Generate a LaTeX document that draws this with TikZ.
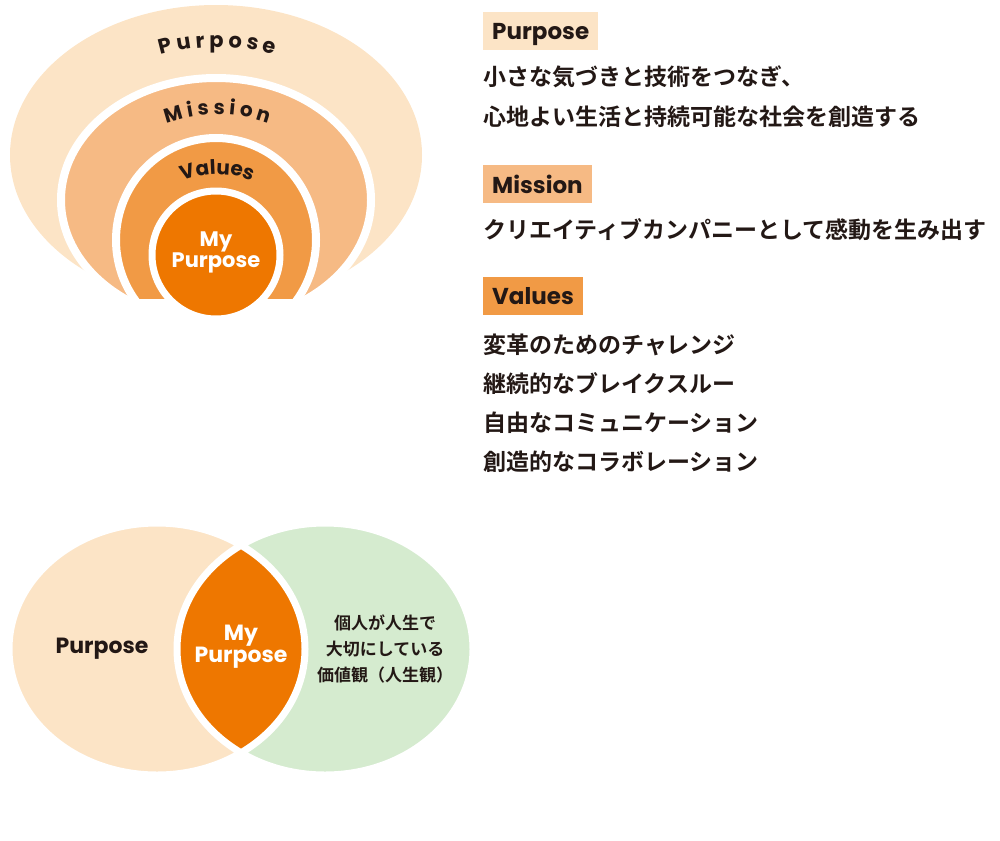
\documentclass[tikz,border=0pt]{standalone}
\usepackage{fontspec}
\setmainfont{Poppins}
\newfontfamily\jpfont{Noto Sans CJK JP}[BoldFont={* Bold}]
\usetikzlibrary{positioning,decorations.text}
\definecolor{cpurpose}{HTML}{FCE4C6}
\definecolor{cmission}{HTML}{F6BA84}
\definecolor{cvalues}{HTML}{F19A45}
\definecolor{ccore}{HTML}{EE7700}
\definecolor{cgreen}{HTML}{D5EBCF}
\definecolor{ctext}{HTML}{231815}
\tikzset{
  ring/.style={fill=#1, draw=white, line width=8},
  head/.style={anchor=north west, inner xsep=9pt, inner ysep=0pt, minimum height=38pt,
     text depth=0pt, font=\fontsize{23}{26}\selectfont\bfseries, text=ctext, fill=#1},
  body/.style={anchor=west, inner sep=0pt, font=\jpfont\fontsize{23}{26}\selectfont\bfseries, text=ctext},
  arctext/.style={decorate, decoration={text along path, text align=center}}
}
\begin{document}
\begin{tikzpicture}[x=1pt,y=-1pt]
  \useasboundingbox (0,0) rectangle (1000,840);

  % nested ellipses
  \begin{scope}
    \clip (0,0) rectangle (480,298);
    \fill[cpurpose] (216,155) ellipse [x radius=206, y radius=150];
    \path[ring=cmission] (216,200) ellipse [x radius=155, y radius=122];
    \path[ring=cvalues] (216,240) ellipse [x radius=100, y radius=102];
  \end{scope}
  \node[circle, fill=ccore, draw=white, line width=7, minimum size=128pt] (core) at (216,255) {};
  \node[align=center, text=white, font=\fontsize{21}{21}\selectfont\bfseries] (coretxt) at (216,252) {My\\Purpose};

  % arc labels
  \path[arctext, decoration={text={|\fontsize{21}{21}\selectfont\bfseries\color{ctext}|P u r p o s e}}]
     (140,62) .. controls (190,42) and (245,42) .. (295,62);
  \path[arctext, decoration={text={|\fontsize{20}{20}\selectfont\bfseries\color{ctext}|M i s s i o n}}]
     (155,128) .. controls (195,110) and (240,110) .. (280,128);
  \path[arctext, decoration={text={|\fontsize{20}{20}\selectfont\bfseries\color{ctext}|Values}}]
     (170,187) .. controls (200,170) and (235,170) .. (265,187);

  % right column
  \node[head=cpurpose] (hpurpose) at (483,12) {Purpose};
  \node[body] (p1) at (483,77) {小さな気づきと技術をつなぎ、};
  \node[body] (p2) at (483,117) {心地よい生活と持続可能な社会を創造する};
  \node[head=cmission] (hmission) at (483,165) {Mission};
  \node[body] (m1) at (483,230) {クリエイティブカンパニーとして感動を生み出す};
  \node[head=cvalues] (hvalues) at (483,277) {Values};
  \node[body] (v1) at (483,345) {変革のためのチャレンジ};
  \node[body] (v2) at (483,384) {継続的なブレイクスルー};
  \node[body] (v3) at (483,423) {自由なコミュニケーション};
  \node[body] (v4) at (483,462) {創造的なコラボレーション};

  % venn
  \fill[cpurpose] (157,649) ellipse [x radius=148, y radius=126];
  \fill[cgreen] (325,649) ellipse [x radius=148, y radius=126];
  \begin{scope}
    \clip (157,649) ellipse [x radius=148, y radius=126];
    \fill[ccore] (325,649) ellipse [x radius=148, y radius=126];
  \end{scope}
  \draw[white, line width=7] (157,649) ellipse [x radius=148, y radius=126]
     (325,649) ellipse [x radius=148, y radius=126];
  \node[font=\fontsize{22}{24}\selectfont\bfseries, text=ctext] (lpurpose) at (102,649) {Purpose};
  \node[align=center, text=white, font=\fontsize{22}{22}\selectfont\bfseries] (lcore) at (241,647) {My\\Purpose};
  \node[align=center, text=ctext, font=\jpfont\fontsize{17}{26}\selectfont\bfseries] (lvalues) at (385,649)
     {個人が人生で\\大切にしている\\価値観（人生観）};
\end{tikzpicture}
\end{document}
